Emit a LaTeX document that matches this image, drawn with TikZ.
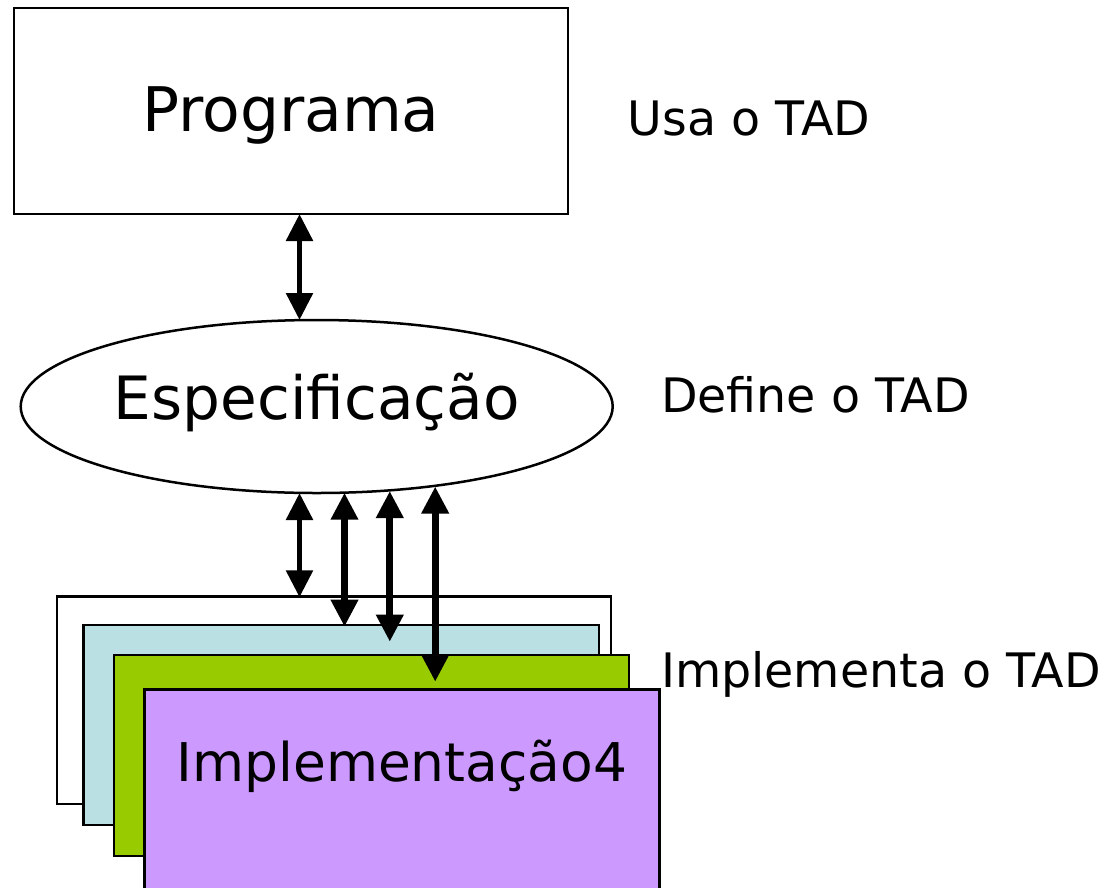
\documentclass[tikz,border=0pt]{standalone}
\usepackage{fontspec}
\setmainfont{DejaVu Sans}
\usetikzlibrary{arrows.meta,shapes.geometric}
\definecolor{implA}{HTML}{BBE0E3}
\definecolor{implB}{HTML}{99CC00}
\definecolor{implC}{HTML}{CC99FF}
\tikzset{
  box/.style={draw=black, line width=2.5pt, rectangle, inner sep=0pt},
  sidetext/.style={anchor=base, inner sep=0pt, font=\fontsize{47.5}{57}\selectfont},
  thinarrow/.style={line width=5.5pt, {Triangle[length=27pt,width=26pt]}-{Triangle[length=27pt,width=26pt]}},
  thickarrow/.style={line width=7pt, {Triangle[length=27pt,width=26pt]}-{Triangle[length=27pt,width=26pt]}},
}
\begin{document}
\begin{tikzpicture}[x=1pt,y=-1pt]
\useasboundingbox (0,0) rectangle (1106,887);
\clip (0,0) rectangle (1106,887);

% Programa
\node[box, minimum width=554pt, minimum height=206pt,
      font=\fontsize{61.5}{72}\selectfont, text height=52pt, text depth=12pt]
  (prog) at (291,111) {Programa};

% Especificacao
\node[draw=black, line width=2.5pt, ellipse, inner sep=0pt,
      minimum width=592pt, minimum height=173pt,
      font=\fontsize{59.7}{70}\selectfont, text height=40pt, text depth=14.4pt]
  (spec) at (316.7,406.5) {Especificação};

% implementations stack
\node[box, fill=white, minimum width=553.8pt, minimum height=207.3pt] (impa) at (334.1,700.35) {};
\node[box, fill=implA, minimum width=515.3pt, minimum height=200pt] (impb) at (341.35,725) {};
\node[box, fill=implB, minimum width=515pt, minimum height=201pt] (impc) at (371.5,755.5) {};
\node[box, fill=implC, minimum width=515pt, minimum height=200pt,
      font=\fontsize{53.4}{64}\selectfont, text height=20pt, text depth=35.2pt]
  (impd) at (402,789.3) {Implementação4};

% side labels
\node[sidetext] (usa) at (749,135) {Usa o TAD};
\node[sidetext] (def) at (815.5,412) {Define o TAD};
\node[sidetext] (imp) at (881,687) {Implementa o TAD};

% arrow end points
\coordinate (p0) at (299.5,214);   \coordinate (q0) at (299.5,320);
\coordinate (p1) at (299.5,493);   \coordinate (q1) at (299.5,597.3);
\coordinate (p2) at (344.5,492.7); \coordinate (q2) at (344.5,626.7);
\coordinate (p3) at (389.8,491);   \coordinate (q3) at (389.8,641.7);
\coordinate (p4) at (435.2,486.5); \coordinate (q4) at (435.2,681.7);

\draw[thinarrow] (p0) -- (q0);
\draw[thinarrow] (p1) -- (q1);
\draw[thickarrow] (p2) -- (q2);
\draw[thickarrow] (p3) -- (q3);
\draw[thickarrow] (p4) -- (q4);
\end{tikzpicture}
\end{document}
